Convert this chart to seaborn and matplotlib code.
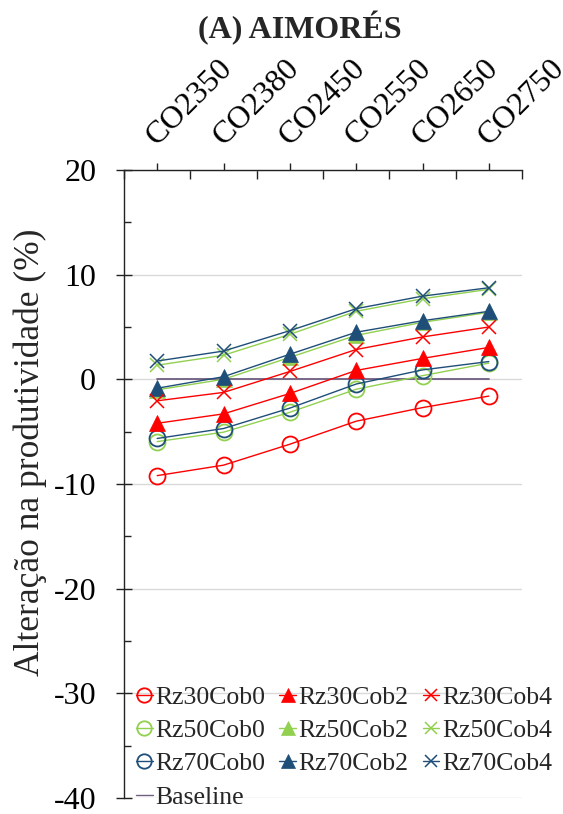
import numpy as np
import pandas as pd
import matplotlib
matplotlib.use("Agg")
import matplotlib.pyplot as plt
from matplotlib.lines import Line2D
from matplotlib.ticker import MultipleLocator, FixedLocator
import seaborn as sns

# CO2 scenarios (top axis categories)
categories = ["CO2350", "CO2380", "CO2450", "CO2550", "CO2650", "CO2750"]

# Yield change (%) per scenario
rz30_cob0 = [-9.2, -8.2, -6.2, -4.0, -2.7, -1.6]
rz30_cob2 = [-4.2, -3.3, -1.35, 0.85, 2.0, 3.05]
rz30_cob4 = [-2.05, -1.25, 0.75, 2.85, 4.05, 5.0]
rz50_cob0 = [-5.95, -5.05, -3.15, -0.95, 0.35, 1.55]
rz50_cob2 = [-1.0, 0.0, 2.1, 4.2, 5.45, 6.4]
rz50_cob4 = [1.35, 2.3, 4.3, 6.5, 7.7, 8.6]
rz70_cob0 = [-5.65, -4.7, -2.75, -0.45, 0.9, 1.7]
rz70_cob2 = [-0.85, 0.25, 2.4, 4.5, 5.6, 6.5]
rz70_cob4 = [1.75, 2.7, 4.65, 6.75, 7.95, 8.75]
baseline = [0, 0, 0, 0, 0, 0]

series_names = ["Rz30Cob0", "Rz30Cob2", "Rz30Cob4",
                "Rz50Cob0", "Rz50Cob2", "Rz50Cob4",
                "Rz70Cob0", "Rz70Cob2", "Rz70Cob4"]
series_values = [rz30_cob0, rz30_cob2, rz30_cob4,
                 rz50_cob0, rz50_cob2, rz50_cob4,
                 rz70_cob0, rz70_cob2, rz70_cob4]

red, green, navy = "#FF0000", "#92D050", "#1F4E79"
base_color = "#6E5E80"
root_colors = {"Rz30": red, "Rz50": green, "Rz70": navy}

sns.set_style("ticks")
plt.rcParams["font.family"] = ["Liberation Serif", "DejaVu Serif"]
plt.rcParams["axes.unicode_minus"] = False

fig = plt.figure(figsize=(5.63, 8.14), dpi=100)
ax = fig.add_axes([124 / 563, 1 - 798 / 814, 398 / 563, 628 / 814])

pos = np.arange(len(categories))
frames = []
for name, vals in zip(series_names, series_values):
    frames.append(pd.DataFrame({"pos": pos, "value": vals, "series": name}))
df = pd.concat(frames, ignore_index=True)

handles = {}
draw_order = ["Rz30Cob0", "Rz50Cob0", "Rz70Cob0",
              "Rz50Cob2", "Rz70Cob2", "Rz30Cob2",
              "Rz50Cob4", "Rz70Cob4", "Rz30Cob4"]

# Baseline at zero
sns.lineplot(x=pos, y=baseline, color=base_color, lw=1.3, ax=ax, zorder=2)
handles["Baseline"] = Line2D([], [], color=base_color, lw=1.0)

for name in draw_order:
    sub = df[df["series"] == name]
    col = root_colors[name[:4]]
    cob = name[-1]
    if cob == "0":
        mk = dict(marker="o", markersize=11.5, markerfacecolor="none",
                  markeredgecolor=col, markeredgewidth=1.3)
    elif cob == "2":
        mk = dict(marker="^", markersize=11, markerfacecolor=col,
                  markeredgecolor=col, markeredgewidth=0.5)
    else:
        mk = dict(marker="x", markersize=10, markeredgecolor=col,
                  markeredgewidth=1.1)
    sns.lineplot(data=sub, x="pos", y="value", color=col, lw=1.0,
                 ax=ax, zorder=3, **mk)
    handles[name] = Line2D([], [], color=col, lw=1.0, **mk)

ax.set_xlim(-0.5, len(categories) - 0.5)
ax.set_ylim(-40, 20)

# Top category axis
ax.xaxis.tick_top()
ax.set_xticks(pos)
ax.set_xticklabels(categories, rotation=45, ha="left", va="baseline",
                   rotation_mode="anchor", fontsize=23)
ax.xaxis.set_minor_locator(FixedLocator(np.arange(-0.5, len(categories), 1.0)))
ax.tick_params(axis="x", which="major", direction="out", length=5,
               width=1.0, pad=12, colors="#222222", labelcolor="black")
ax.tick_params(axis="x", which="minor", direction="in", length=6.5,
               width=1.0, colors="#222222", top=True, bottom=False)

# Value axis
ax.yaxis.set_major_locator(MultipleLocator(10))
ax.yaxis.set_minor_locator(MultipleLocator(5))
ax.tick_params(axis="y", which="major", direction="inout", length=12,
               width=1.0, pad=14, labelsize=23, colors="#222222",
               labelcolor="black")
ax.tick_params(axis="y", which="minor", direction="in", length=5,
               width=1.0, colors="#222222")

ax.grid(axis="y", which="major", color="#d9d9d9", lw=1.0, zorder=0)
ax.set_axisbelow(True)
for side in ["bottom", "right"]:
    ax.spines[side].set_visible(False)
for side in ["top", "left"]:
    ax.spines[side].set_color("#222222")
    ax.spines[side].set_linewidth(1.0)
ax.set_xlabel("")
ax.set_ylabel("")

fig.text(30 / 563, 1 - 452 / 814, "Alteração na produtividade (%)",
         rotation=90, ha="center", va="center", fontsize=25.5)
fig.text(300 / 563, 1 - 28 / 814, "(A) AIMORÉS", ha="center", va="center",
         fontsize=23, fontweight="bold")

legend_order = ["Rz30Cob0", "Rz50Cob0", "Rz70Cob0", "Baseline",
                "Rz30Cob2", "Rz50Cob2", "Rz70Cob2",
                "Rz30Cob4", "Rz50Cob4", "Rz70Cob4"]
ax.legend([handles[k] for k in legend_order], legend_order,
          ncol=3, frameon=False, fontsize=18.5, loc="lower left",
          bbox_to_anchor=(0.03, -0.017), borderaxespad=0, borderpad=0,
          handlelength=0.65, handletextpad=0.1, columnspacing=0.55,
          labelspacing=0.4, markerscale=0.9)

fig.savefig("out.png", dpi=100)
